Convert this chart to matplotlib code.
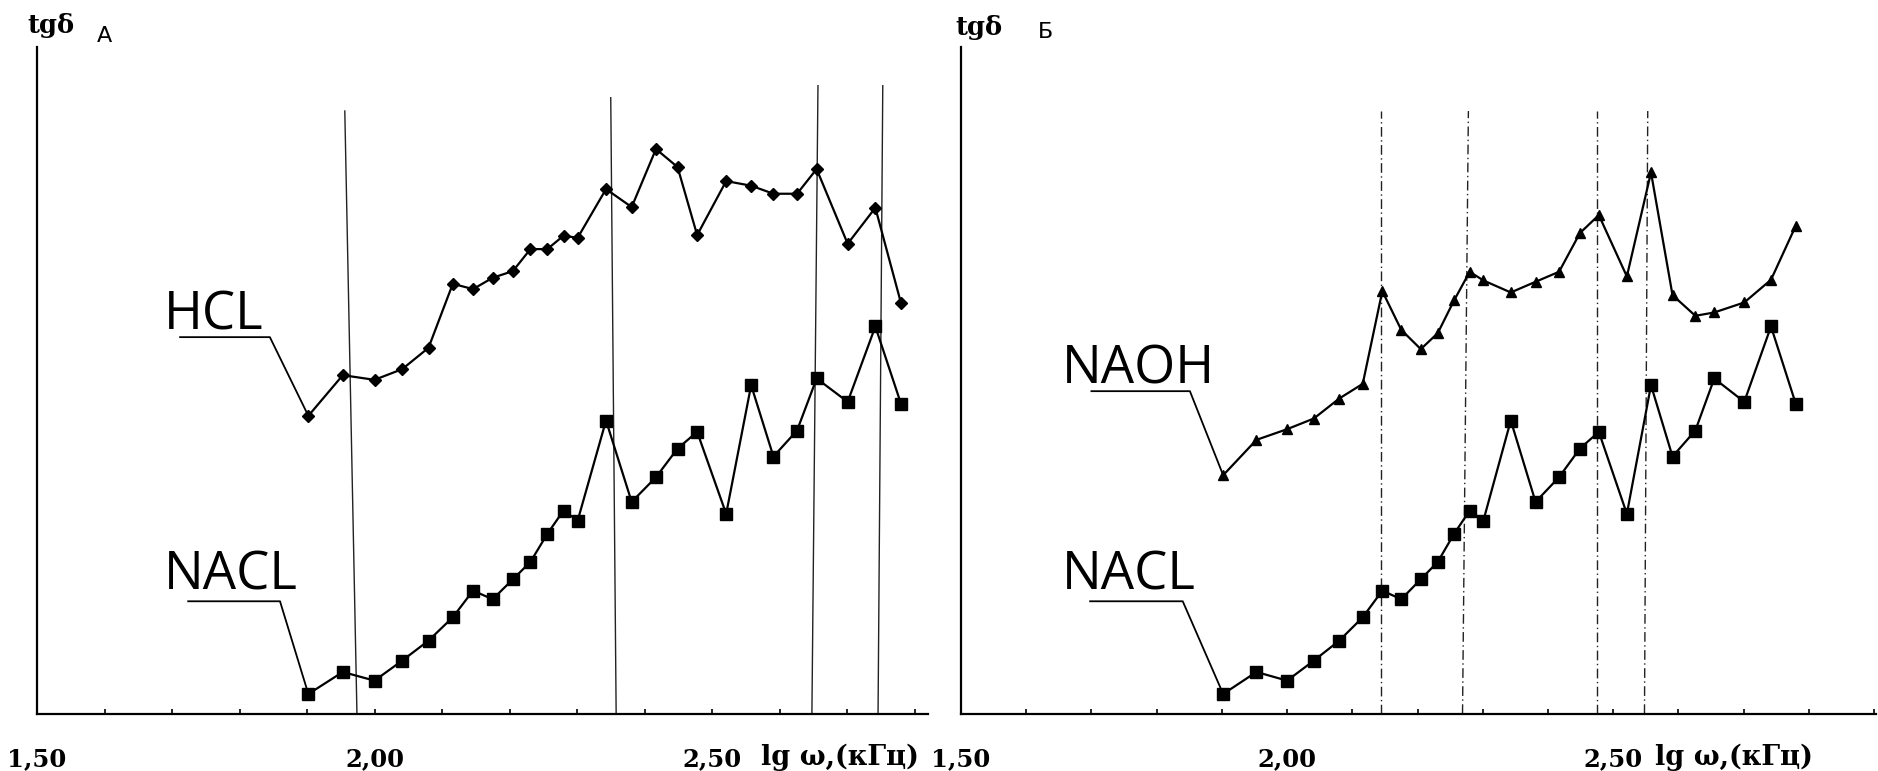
#!/usr/bin/env python3
"""
tgδ vs lg ω: панели А (HCL / NACL) и Б (NAOH / NACL).
Выход: out.png (1878x771)
"""

import matplotlib
matplotlib.use("Agg")
import matplotlib.pyplot as plt
import matplotlib.transforms as mtransforms
import numpy as np

# частоты (lg ω, кГц) — общая сетка для всех кривых
LG_W = [1.902, 1.953, 2.000, 2.041, 2.080, 2.116, 2.146, 2.175, 2.205, 2.231,
        2.256, 2.280, 2.301, 2.343, 2.381, 2.417, 2.449, 2.478, 2.521, 2.558,
        2.591, 2.626, 2.655, 2.701, 2.742, 2.780]

# tgδ, усл. ед.
HCL = [44.7, 50.8, 50.1, 51.7, 54.9, 64.5, 63.7, 65.4, 66.4, 69.7,
       69.7, 71.7, 71.4, 78.7, 76.0, 84.7, 82.0, 71.8, 79.9, 79.2,
       78.0, 78.0, 81.7, 70.5, 75.9, 61.6]
NACL = [3.0, 6.3, 5.0, 8.0, 11.0, 14.5, 18.5, 17.2, 20.2, 22.8,
        27.0, 30.5, 29.0, 44.0, 31.8, 35.5, 39.8, 42.3, 30.0, 49.3,
        38.6, 42.5, 50.3, 46.8, 58.1, 46.5]
NAOH = [35.8, 41.1, 42.7, 44.3, 47.3, 49.5, 63.4, 57.6, 54.7, 57.1,
        62.0, 66.3, 65.0, 63.2, 64.8, 66.3, 72.1, 74.8, 65.6, 81.2,
        62.8, 59.7, 60.2, 61.7, 65.1, 73.2]

# вертикальные линии (верх / низ по x, верх по y)
LINES_A_XTOP = [1.956, 2.350, 2.657, 2.753]
LINES_A_XBOT = [1.974, 2.358, 2.648, 2.746]
LINES_A_YTOP = [90.4, 92.4, 94.2, 94.2]
LINES_B_XTOP = [2.144, 2.278, 2.475, 2.553]
LINES_B_XBOT = [2.144, 2.269, 2.475, 2.548]
LINES_B_YTOP = [90.4, 90.4, 90.4, 90.4]

TICKS_A = [1.5, 1.6, 1.7, 1.8, 1.9, 2.0, 2.1, 2.2, 2.3, 2.4, 2.5, 2.6, 2.7, 2.8]
TICKS_B = TICKS_A + [2.9]
TICK_TEXT = {1.5: "1,50", 2.0: "2,00", 2.5: "2,50"}

XLABEL = "lg ω,(кГц)"

W, H = 1878, 771
SERIF = ["DejaVu Serif"]
SANS = ["Open Sans", "DejaVu Sans"]


def fig_box(x0, x1, y0, y1):
    """пиксели (сверху вниз) -> [left, bottom, width, height] в долях фигуры"""
    return [x0 / W, 1 - y1 / H, (x1 - x0) / W, (y1 - y0) / H]


def setup_axes(ax, xmax, ticks):
    ax.set_xlim(1.5, xmax)
    ax.set_ylim(0, 100)
    for s in ("top", "right"):
        ax.spines[s].set_visible(False)
    ax.spines["left"].set_linewidth(1.6)
    ax.spines["bottom"].set_linewidth(1.6)
    ax.set_yticks([])
    ax.set_xticks(ticks)
    ax.set_xticklabels([TICK_TEXT.get(round(t, 1), "") for t in ticks],
                       fontfamily=SERIF, fontweight="bold", fontsize=17.5)
    ax.tick_params(axis="x", direction="in", length=3.5, width=1.2, pad=24)
    trans = mtransforms.blended_transform_factory(ax.transData, ax.transAxes)
    return trans


def label(ax, text, tx, ty, ul0, ul1, uy, px, py):
    ax.text(tx, ty, text, fontfamily=SANS, fontsize=38, va="baseline", ha="left")
    ax.plot([ul0, ul1, px], [uy, uy, py], color="black", lw=1.3,
            clip_on=False, zorder=1)


def main() -> None:
    fig = plt.figure(figsize=(W / 100, H / 100), dpi=100)

    x = np.array(LG_W)

    # ---------- панель А ----------
    axA = fig.add_axes(fig_box(37, 928, 47, 714))
    trA = setup_axes(axA, 2.82, TICKS_A)
    for xt, xb, yt in zip(LINES_A_XTOP, LINES_A_XBOT, LINES_A_YTOP):
        axA.plot([xb, xt], [0, yt], color="#222222", lw=1.0, zorder=1)
    axA.plot(x, HCL, color="black", lw=1.6, marker="D", ms=6, zorder=3)
    axA.plot(x, NACL, color="black", lw=1.6, marker="s", ms=8, zorder=3)
    label(axA, "HCL", 1.688, 57.6, 1.712, 1.845, 56.5, LG_W[0], HCL[0])
    label(axA, "NACL", 1.688, 18.6, 1.724, 1.860, 16.9, LG_W[0], NACL[0])
    axA.text(2.572, -0.0765, XLABEL, transform=trA, fontfamily=SERIF,
             fontweight="bold", fontsize=19.5, va="baseline", ha="left")

    # ---------- панель Б ----------
    axB = fig.add_axes(fig_box(961, 1876, 47, 714))
    trB = setup_axes(axB, 2.903, TICKS_B)
    for xt, xb, yt in zip(LINES_B_XTOP, LINES_B_XBOT, LINES_B_YTOP):
        axB.plot([xb, xt], [0, yt], color="#222222", lw=1.0,
                 ls=(0, (7, 2.5, 1, 2.5)), zorder=1)
    axB.plot(x, NAOH, color="black", lw=1.6, marker="^", ms=7.5, zorder=3)
    axB.plot(x, NACL, color="black", lw=1.6, marker="s", ms=8, zorder=3)
    label(axB, "NAOH", 1.655, 49.5, 1.700, 1.851, 48.4, LG_W[0], NAOH[0])
    label(axB, "NACL", 1.655, 18.6, 1.698, 1.840, 16.9, LG_W[0], NACL[0])
    axB.text(2.564, -0.0765, XLABEL, transform=trB, fontfamily=SERIF,
             fontweight="bold", fontsize=19.5, va="baseline", ha="left")

    # заголовки осей и букв панелей
    fig.text(27 / W, 1 - 33 / H, "tgδ", fontfamily=SERIF, fontweight="bold",
             fontsize=18.5, va="baseline")
    fig.text(97 / W, 1 - 42 / H, "А", fontfamily=["DejaVu Sans"], fontsize=16,
             va="baseline")
    fig.text(955 / W, 1 - 35 / H, "tgδ", fontfamily=SERIF, fontweight="bold",
             fontsize=18.5, va="baseline")
    fig.text(1038 / W, 1 - 38 / H, "Б", fontfamily=["DejaVu Sans"], fontsize=16,
             va="baseline")

    fig.savefig("out.png", dpi=100)
    plt.close(fig)
    print("-> out.png")


if __name__ == "__main__":
    main()
